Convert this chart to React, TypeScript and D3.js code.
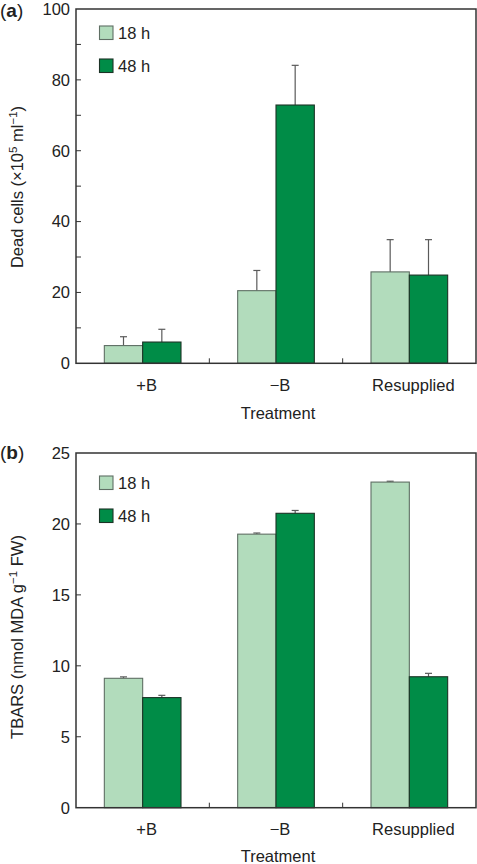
import React from "react";
import * as d3 from "d3";

const categories = ["+B", "\u2212B", "Resupplied"];
const seriesNames = ["18 h", "48 h"];

const deadCells18 = [5.0, 20.5, 25.8];
const deadCells48 = [6.0, 72.9, 24.9];
const deadCellsErr18 = [2.5, 5.7, 9.1];
const deadCellsErr48 = [3.6, 11.2, 10.0];

const tbars18 = [9.12, 19.28, 22.95];
const tbars48 = [7.76, 20.75, 9.23];
const tbarsErr18 = [0.1, 0.08, 0.06];
const tbarsErr48 = [0.16, 0.2, 0.24];

const deadTicksMajor = [0, 20, 40, 60, 80, 100];
const deadTicksMinor = [10, 30, 50, 70, 90];
const tbarsTicks = [0, 5, 10, 15, 20, 25];

const FONT = "'Liberation Sans', Arial, Helvetica, sans-serif";
const LIGHT = "#b2dcbc";
const DARK = "#008c47";
const LIGHT_STROKE = "#5f6f64";
const DARK_STROKE = "#1c3326";
const AXIS = "#333333";
const ERR = "#5a5a5a";
const FS = 16.5;

const X0 = 76;
const X1 = 476;

type PanelProps = {
  letter: string;
  top: number;
  bottom: number;
  yMax: number;
  major: number[];
  minor: number[];
  v18: number[];
  v48: number[];
  e18: number[];
  e48: number[];
  titleCenter: number;
  title: React.ReactNode;
  labelBaseline: number;
  treatBaseline: number;
  legendTop: number;
  letterBaseline: number;
};

function Panel(p: PanelProps) {
  const x = d3.scaleBand<string>().domain(categories).range([X0, X1]).padding(0);
  const bw = x.bandwidth();
  const xs = d3
    .scaleBand<string>()
    .domain(seriesNames)
    .range([bw * 0.2125, bw * 0.7875])
    .padding(0);
  const y = d3.scaleLinear().domain([0, p.yMax]).range([p.bottom, p.top]);
  const series = [
    { name: seriesNames[0], vals: p.v18, errs: p.e18, fill: LIGHT, stroke: LIGHT_STROKE },
    { name: seriesNames[1], vals: p.v48, errs: p.e48, fill: DARK, stroke: DARK_STROKE },
  ];
  const capHalf = 3.5;
  return (
    <g>
      {series.map((s) =>
        categories.map((c, i) => {
          const bx = (x(c) as number) + (xs(s.name) as number);
          const w = xs.bandwidth();
          const cx = bx + w / 2;
          const yt = y(s.vals[i]);
          const ye = y(s.vals[i] + s.errs[i]);
          return (
            <g key={s.name + c}>
              <line x1={cx} x2={cx} y1={yt} y2={ye} stroke={ERR} strokeWidth={1.2} />
              <line x1={cx - capHalf} x2={cx + capHalf} y1={ye} y2={ye} stroke={ERR} strokeWidth={1.2} />
              <rect x={bx} y={yt} width={w} height={p.bottom - yt} fill={s.fill} stroke={s.stroke} strokeWidth={1.1} />
            </g>
          );
        })
      )}
      <rect x={X0} y={p.top} width={X1 - X0} height={p.bottom - p.top} fill="none" stroke={AXIS} strokeWidth={1.5} />
      {p.major.map((t) => (
        <g key={"M" + t}>
          {t > 0 && t < p.yMax && (
            <line x1={X0} x2={X0 + 5} y1={y(t)} y2={y(t)} stroke={AXIS} strokeWidth={1} />
          )}
          <text
            x={70}
            y={y(t) + 1.5}
            textAnchor="end"
            dominantBaseline="middle"
            fontFamily={FONT}
            fontSize={FS}
            fill="#222"
          >
            {t}
          </text>
        </g>
      ))}
      {p.minor.map((t) => (
        <line key={"m" + t} x1={X0} x2={X0 + 5} y1={y(t)} y2={y(t)} stroke={AXIS} strokeWidth={1} />
      ))}
      {categories.slice(1).map((c) => (
        <line key={"s" + c} x1={x(c) as number} x2={x(c) as number} y1={p.bottom} y2={p.bottom - 5} stroke={AXIS} strokeWidth={1} />
      ))}
      {categories.map((c) => (
        <text
          key={"l" + c}
          x={(x(c) as number) + bw / 2 + 4}
          y={p.labelBaseline}
          textAnchor="middle"
          fontFamily={FONT}
          fontSize={FS}
          fill="#222"
        >
          {c}
        </text>
      ))}
      <text x={278} y={p.treatBaseline} textAnchor="middle" fontFamily={FONT} fontSize={FS} fill="#222">
        Treatment
      </text>
      <text
        transform={`translate(23,${p.titleCenter}) rotate(-90)`}
        textAnchor="middle"
        fontFamily={FONT}
        fontSize={FS}
        fill="#222"
      >
        {p.title}
      </text>
      {series.map((s, i) => (
        <g key={"lg" + s.name}>
          <rect x={99.5} y={p.legendTop + i * 33} width={13.5} height={13.5} fill={s.fill} stroke={s.stroke} strokeWidth={1.1} />
          <text x={118} y={p.legendTop + i * 33 + 12.5} fontFamily={FONT} fontSize={FS} fill="#222">
            {s.name}
          </text>
        </g>
      ))}
      <text x={0} y={p.letterBaseline} fontFamily={FONT} fontSize={19} fill="#222">
        (<tspan fontWeight="bold">{p.letter}</tspan>)
      </text>
    </g>
  );
}

export default function App() {
  return (
    <svg
      width={477}
      height={864}
      style={{ position: "absolute", left: 0, top: 0, background: "#fff" }}
    >
      <rect x={0} y={0} width={477} height={864} fill="#fff" />
      <Panel
        letter="a"
        top={9}
        bottom={363.3}
        yMax={100}
        major={deadTicksMajor}
        minor={deadTicksMinor}
        v18={deadCells18}
        v48={deadCells48}
        e18={deadCellsErr18}
        e48={deadCellsErr48}
        titleCenter={187}
        title={
          <>
            Dead cells (×10
            <tspan dy={-6} fontSize={11.5}>5</tspan>
            <tspan dy={6}> ml</tspan>
            <tspan dy={-6} fontSize={11.5}>−1</tspan>
            <tspan dy={6}>)</tspan>
          </>
        }
        labelBaseline={391}
        treatBaseline={419}
        legendTop={26}
        letterBaseline={17}
      />
      <Panel
        letter="b"
        top={453}
        bottom={807.7}
        yMax={25}
        major={tbarsTicks}
        minor={[]}
        v18={tbars18}
        v48={tbars48}
        e18={tbarsErr18}
        e48={tbarsErr48}
        titleCenter={637}
        title={
          <>
            TBARS (nmol MDA g
            <tspan dy={-6} fontSize={11.5}>−1</tspan>
            <tspan dy={6}> FW)</tspan>
          </>
        }
        labelBaseline={835}
        treatBaseline={862}
        legendTop={476}
        letterBaseline={459}
      />
    </svg>
  );
}
